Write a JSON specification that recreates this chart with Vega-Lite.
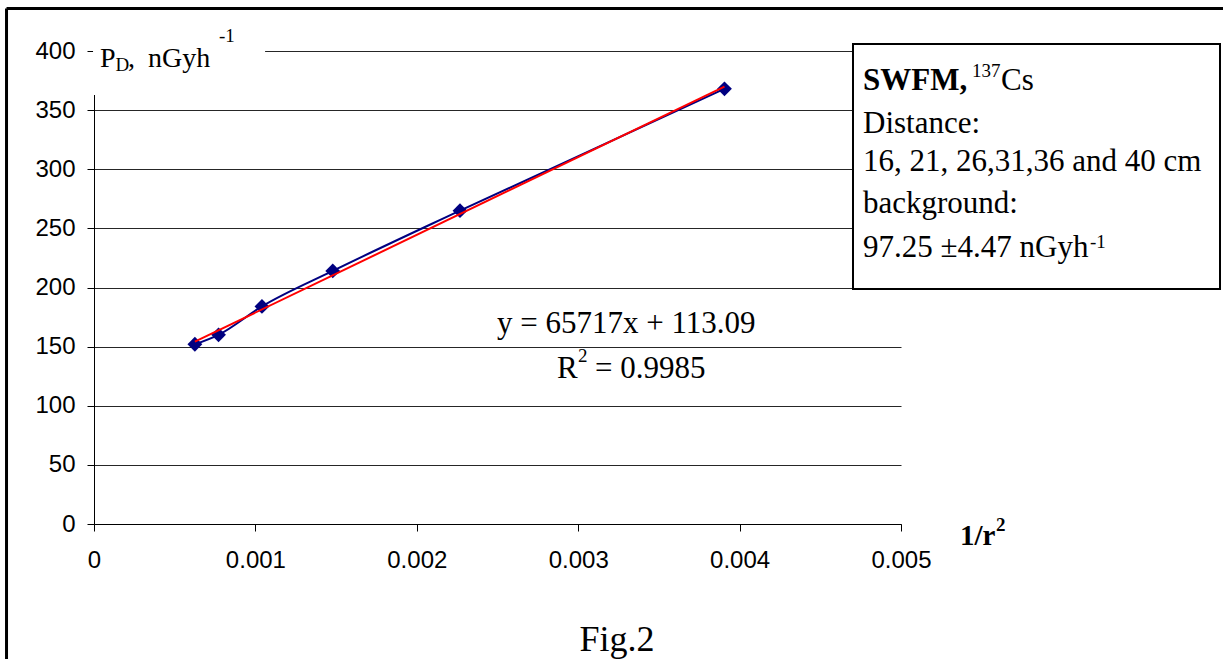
{
  "$schema": "https://vega.github.io/schema/vega-lite/v6.json",
  "width": 807,
  "height": 473,
  "autosize": {"type": "none"},
  "padding": {"left": 94, "top": 51, "right": 322, "bottom": 135},
  "background": "white",
  "config": {
    "view": {"stroke": null},
    "axis": {"labelFont": "Liberation Sans", "labelColor": "#000", "domainColor": "#000", "tickColor": "#000", "labelFontSize": 24, "tickSize": 7, "domainWidth": 1, "tickWidth": 1}
  },
  "datasets": {
    "points": [
      {"x": 0.000625, "y": 152},
      {"x": 0.0007716, "y": 160},
      {"x": 0.0010406, "y": 184},
      {"x": 0.0014793, "y": 214},
      {"x": 0.0022676, "y": 265},
      {"x": 0.0039063, "y": 368}
    ],
    "fit": [
      {"x": 0.000625, "y": 154.16},
      {"x": 0.0039063, "y": 369.8}
    ],
    "titleMask": [{"x": -0.000006, "x2": 0.00106, "y": 362.8, "y2": 420}],
    "legendBox": [{"x": 0.0047026, "x2": 0.0069765, "y": 198.73, "y2": 405.92}],
    "frame": [
      {"x": -0.000542, "x2": 0.0073, "y": 435.94, "y2": 435.94},
      {"x": -0.000542, "x2": -0.000542, "y": 435.94, "y2": -150}
    ],
    "titleMain": [
      {"x": 0.0000372, "y": 386.47, "t": "P"},
      {"x": 0.0002107, "y": 386.47, "t": ","},
      {"x": 0.0003346, "y": 386.47, "t": "nGyh"}
    ],
    "small": [
      {"x": 0.0001338, "y": 383.09, "t": "D"},
      {"x": 0.0007745, "y": 407.61, "t": "-1"},
      {"x": 0.0054399, "y": 378.01, "t": "137"},
      {"x": 0.0061710, "y": 233.40, "t": "-1"},
      {"x": 0.0029988, "y": 137.00, "t": "2"}
    ],
    "legendBold": [{"x": 0.0047646, "y": 367.02, "t": "SWFM,"}],
    "legendText": [
      {"x": 0.0056196, "y": 367.02, "t": "Cs"},
      {"x": 0.0047646, "y": 330.44, "t": "Distance:"},
      {"x": 0.0047646, "y": 298.52, "t": "16, 21, 26,31,36 and 40 cm"},
      {"x": 0.0047646, "y": 263.00, "t": "background:"},
      {"x": 0.0047646, "y": 225.79, "t": "97.25 ±4.47 nGyh"}
    ],
    "eqText": [
      {"x": 0.0024969, "y": 161.52, "t": "y = 65717x + 113.09"},
      {"x": 0.0028686, "y": 123.47, "t": "R"},
      {"x": 0.0031041, "y": 123.47, "t": "= 0.9985"}
    ],
    "axisTitle": [{"x": 0.0053656, "y": -17.76, "t": "1/r"}],
    "axisTitleSup": [{"x": 0.0055886, "y": -5.92, "t": "2"}],
    "figLabel": [{"x": 0.0032404, "y": -107.4, "t": "Fig.2"}]
  },
  "layer": [
    {
      "data": {"name": "points"},
      "mark": {"type": "line", "color": "#000080", "strokeWidth": 2, "interpolate": "monotone"},
      "encoding": {
        "x": {"field": "x", "type": "quantitative", "title": null, "scale": {"domain": [0, 0.005], "nice": false, "zero": false},
          "axis": {"values": [0, 0.001, 0.002, 0.003, 0.004, 0.005], "format": "~g", "title": null, "grid": false, "labelPadding": 17, "labelFlush": false, "labelOverlap": false}},
        "y": {"field": "y", "type": "quantitative", "title": null, "scale": {"domain": [0, 400], "nice": false, "zero": false},
          "axis": {"values": [0, 50, 100, 150, 200, 250, 300, 350, 400], "title": null, "grid": true, "gridColor": "#000", "gridWidth": 1, "gridOpacity": 0.85, "labelPadding": 12, "labelFlush": false, "labelOverlap": false}}
      }
    },
    {
      "data": {"name": "titleMask"},
      "mark": {"type": "rect", "fill": "white", "strokeWidth": 0},
      "encoding": {
        "x": {"field": "x", "type": "quantitative", "title": null}, "x2": {"field": "x2"},
        "y": {"field": "y", "type": "quantitative", "title": null}, "y2": {"field": "y2"}
      }
    },
    {
      "data": {"name": "points"},
      "mark": {"type": "point", "shape": "diamond", "filled": true, "color": "#000080", "size": 220, "opacity": 1},
      "encoding": {
        "x": {"field": "x", "type": "quantitative", "title": null},
        "y": {"field": "y", "type": "quantitative", "title": null}
      }
    },
    {
      "data": {"name": "fit"},
      "mark": {"type": "line", "color": "#ff0000", "strokeWidth": 2},
      "encoding": {
        "x": {"field": "x", "type": "quantitative", "title": null},
        "y": {"field": "y", "type": "quantitative", "title": null}
      }
    },
    {
      "data": {"name": "legendBox"},
      "mark": {"type": "rect", "fill": "white", "stroke": "#000", "strokeWidth": 2},
      "encoding": {
        "x": {"field": "x", "type": "quantitative", "title": null}, "x2": {"field": "x2"},
        "y": {"field": "y", "type": "quantitative", "title": null}, "y2": {"field": "y2"}
      }
    },
    {
      "data": {"name": "frame"},
      "mark": {"type": "rule", "color": "#000", "strokeWidth": 3},
      "encoding": {
        "x": {"field": "x", "type": "quantitative", "title": null}, "x2": {"field": "x2"},
        "y": {"field": "y", "type": "quantitative", "title": null}, "y2": {"field": "y2"}
      }
    },
    {
      "data": {"name": "titleMain"},
      "mark": {"type": "text", "font": "Liberation Serif", "fontSize": 28, "align": "left", "baseline": "alphabetic", "color": "#000"},
      "encoding": {
        "x": {"field": "x", "type": "quantitative", "title": null},
        "y": {"field": "y", "type": "quantitative", "title": null},
        "text": {"field": "t"}
      }
    },
    {
      "data": {"name": "small"},
      "mark": {"type": "text", "font": "Liberation Serif", "fontSize": 19, "align": "left", "baseline": "alphabetic", "color": "#000"},
      "encoding": {
        "x": {"field": "x", "type": "quantitative", "title": null},
        "y": {"field": "y", "type": "quantitative", "title": null},
        "text": {"field": "t"}
      }
    },
    {
      "data": {"name": "legendBold"},
      "mark": {"type": "text", "font": "Liberation Serif", "fontSize": 31, "fontWeight": "bold", "align": "left", "baseline": "alphabetic", "color": "#000"},
      "encoding": {
        "x": {"field": "x", "type": "quantitative", "title": null},
        "y": {"field": "y", "type": "quantitative", "title": null},
        "text": {"field": "t"}
      }
    },
    {
      "data": {"name": "legendText"},
      "mark": {"type": "text", "font": "Liberation Serif", "fontSize": 31, "align": "left", "baseline": "alphabetic", "color": "#000"},
      "encoding": {
        "x": {"field": "x", "type": "quantitative", "title": null},
        "y": {"field": "y", "type": "quantitative", "title": null},
        "text": {"field": "t"}
      }
    },
    {
      "data": {"name": "eqText"},
      "mark": {"type": "text", "font": "Liberation Serif", "fontSize": 31, "align": "left", "baseline": "alphabetic", "color": "#000"},
      "encoding": {
        "x": {"field": "x", "type": "quantitative", "title": null},
        "y": {"field": "y", "type": "quantitative", "title": null},
        "text": {"field": "t"}
      }
    },
    {
      "data": {"name": "axisTitle"},
      "mark": {"type": "text", "font": "Liberation Serif", "fontSize": 29, "fontWeight": "bold", "align": "left", "baseline": "alphabetic", "color": "#000"},
      "encoding": {
        "x": {"field": "x", "type": "quantitative", "title": null},
        "y": {"field": "y", "type": "quantitative", "title": null},
        "text": {"field": "t"}
      }
    },
    {
      "data": {"name": "axisTitleSup"},
      "mark": {"type": "text", "font": "Liberation Serif", "fontSize": 19, "fontWeight": "bold", "align": "left", "baseline": "alphabetic", "color": "#000"},
      "encoding": {
        "x": {"field": "x", "type": "quantitative", "title": null},
        "y": {"field": "y", "type": "quantitative", "title": null},
        "text": {"field": "t"}
      }
    },
    {
      "data": {"name": "figLabel"},
      "mark": {"type": "text", "font": "Liberation Serif", "fontSize": 36, "align": "center", "baseline": "alphabetic", "color": "#000"},
      "encoding": {
        "x": {"field": "x", "type": "quantitative", "title": null},
        "y": {"field": "y", "type": "quantitative", "title": null},
        "text": {"field": "t"}
      }
    }
  ]
}
